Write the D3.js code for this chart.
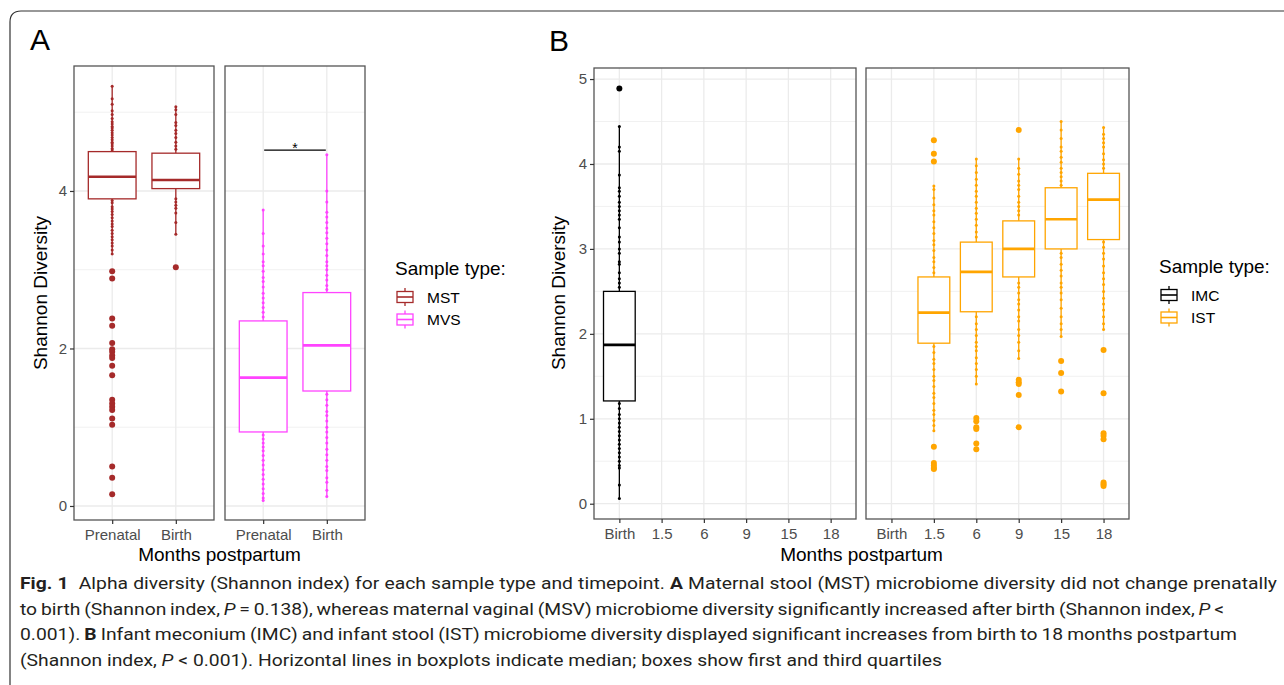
<!DOCTYPE html>
<html>
<head>
<meta charset="utf-8">
<script src="https://cdn.jsdelivr.net/npm/d3@7"></script>
<style>
body { margin: 0; background: #fff; }
svg text { font-family: "Liberation Sans", Arial, sans-serif; }
.cap text { font-family: "Roboto", "Open Sans", sans-serif; fill: #231f20; }
</style>
</head>
<body>
<svg id="fig" width="1284" height="685"></svg>
<script>
// ---- data ----
const aCategories = ['Prenatal', 'Birth']
const bCategories = ['Birth', '1.5', '6', '9', '15', '18']
const istCategories = ['1.5', '6', '9', '15', '18']
const aTicks = [0, 2, 4]
const aMinor = [1, 3, 5]
const bTicks = [0, 1, 2, 3, 4, 5]
const bMinor = [0.5, 1.5, 2.5, 3.5, 4.5]

// box stats: [lower whisker, q1, median, q3, upper whisker]
const mstBox = [[3.20, 3.90, 4.18, 4.50, 5.33], [3.45, 4.03, 4.14, 4.48, 5.07]]
const mvsBox = [[0.07, 0.94, 1.63, 2.35, 3.76], [0.12, 1.46, 2.04, 2.71, 4.46]]
const imcBox = [[0.06, 1.21, 1.87, 2.50, 4.44]]
const istBox = [
    [0.86, 1.89, 2.25, 2.67, 3.74],
    [1.41, 2.26, 2.73, 3.08, 4.06],
    [1.71, 2.67, 3.00, 3.33, 4.06],
    [1.97, 3.00, 3.35, 3.72, 4.50],
    [2.05, 3.11, 3.58, 3.89, 4.43]
]

// outliers
const mstOut = [
    [2.98, 2.89, 2.38, 2.29, 2.07, 1.99, 1.96, 1.91, 1.88, 1.78, 1.66, 1.35, 1.30, 1.26, 1.22, 1.11, 1.03, 0.50, 0.36, 0.15],
    [3.03]
]
const mvsOut = [[], []]
const imcOut = [[4.89]]
const istOut = [
    [4.28, 4.12, 4.03, 0.67, 0.48, 0.45, 0.42, 0.41],
    [1.01, 0.97, 0.90, 0.88, 0.71, 0.64],
    [4.40, 1.46, 1.43, 1.41, 1.28, 0.90],
    [1.68, 1.54, 1.32],
    [1.81, 1.30, 0.83, 0.80, 0.76, 0.25, 0.23, 0.21]
]

// individual samples visible along the whiskers
const mstPts = [
    [5.33, 5.17, 5.10, 5.02, 4.97, 4.92, 4.88, 4.85, 4.82, 4.80, 4.77, 4.74, 4.71, 4.68, 4.65, 4.62, 4.60, 4.57, 4.54, 4.52,
     3.88, 3.85, 3.80, 3.77, 3.74, 3.70, 3.66, 3.62, 3.58, 3.55, 3.50, 3.46, 3.42, 3.38, 3.34, 3.30, 3.25, 3.20],
    [5.07, 5.03, 4.97, 4.87, 4.83, 4.77, 4.73, 4.68, 4.62, 4.57, 4.53, 3.90, 3.86, 3.82, 3.78, 3.72, 3.60, 3.45]
]
const mvsPts = [
    [3.76, 3.46, 3.30, 3.20, 3.10, 3.05, 2.98, 2.90, 2.85, 2.78, 2.70, 2.64, 2.58, 2.52, 2.46, 2.40,
     0.90, 0.85, 0.80, 0.75, 0.70, 0.64, 0.58, 0.52, 0.46, 0.40, 0.34, 0.28, 0.22, 0.16, 0.10, 0.07],
    [4.46, 4.00, 3.86, 3.73, 3.67, 3.60, 3.53, 3.47, 3.40, 3.33, 3.25, 3.18, 3.10, 3.05, 3.00, 2.93, 2.87, 2.80, 2.75,
     1.42, 1.35, 1.28, 1.20, 1.15, 1.08, 1.00, 0.94, 0.87, 0.80, 0.72, 0.65, 0.58, 0.50, 0.45, 0.36, 0.30, 0.20, 0.12]
]
const imcPts = [
    [4.44, 4.20, 4.15, 3.87, 3.72, 3.68, 3.62, 3.55, 3.50, 3.45, 3.40, 3.35, 3.25, 3.14, 3.08, 3.00, 2.95, 2.85, 2.82, 2.72, 2.65, 2.60, 2.55,
     1.18, 1.12, 1.05, 1.00, 0.95, 0.90, 0.85, 0.80, 0.75, 0.70, 0.65, 0.60, 0.55, 0.50, 0.45, 0.42, 0.22, 0.06]
]
const istPts = [
    [3.74, 3.70, 3.60, 3.52, 3.45, 3.40, 3.32, 3.25, 3.18, 3.10, 3.05, 2.98, 2.90, 2.85, 2.78, 2.72,
     1.85, 1.78, 1.70, 1.65, 1.58, 1.50, 1.45, 1.38, 1.30, 1.25, 1.18, 1.10, 1.05, 0.98, 0.92, 0.86],
    [4.06, 3.98, 3.90, 3.82, 3.75, 3.68, 3.62, 3.55, 3.48, 3.42, 3.35, 3.28, 3.20, 3.14,
     2.20, 2.12, 2.05, 1.98, 1.90, 1.85, 1.80, 1.72, 1.65, 1.58, 1.50, 1.41],
    [4.06, 3.95, 3.88, 3.80, 3.75, 3.70, 3.62, 3.55, 3.50, 3.45, 3.40,
     2.60, 2.55, 2.48, 2.40, 2.35, 2.28, 2.20, 2.15, 2.05, 1.98, 1.90, 1.80, 1.71],
    [4.50, 4.40, 4.30, 4.20, 4.15, 4.08, 4.02, 3.95, 3.90, 3.85, 3.80, 3.75,
     2.95, 2.90, 2.82, 2.75, 2.68, 2.60, 2.55, 2.48, 2.40, 2.30, 2.20, 2.12, 2.05, 1.97],
    [4.43, 4.35, 4.30, 4.25, 4.20, 4.12, 4.05, 4.00, 3.95,
     3.08, 3.02, 2.95, 2.88, 2.80, 2.72, 2.65, 2.58, 2.50, 2.42, 2.35, 2.28, 2.20, 2.12, 2.05]
]

const sig = { from: 'Prenatal', to: 'Birth', value: 4.52, label: '*' }

const colMST = '#a52a2a'
const colMVS = '#ff44ff'
const colIMC = '#000000'
const colIST = '#ffa500'

// ---- drawing ----
const svg = d3.select('#fig')

// outer frame
svg.append('path')
    .attr('d', 'M10,700 V22 Q10,11 21,11 H1300')
    .attr('fill', 'none').attr('stroke', '#333').attr('stroke-width', 1.2)

const gridLayer = svg.append('g')
const markLayer = svg.append('g')
const frameLayer = svg.append('g')

function facet(x0, x1, y, cats, major, minor, withYAxis) {
    const x = d3.scalePoint().domain(cats).range([x0, x1]).padding(0.6)
    const [yb, yt] = y.range()
    gridLayer.selectAll(null).data(minor).enter().append('line')
        .attr('x1', x0).attr('x2', x1).attr('y1', d => y(d)).attr('y2', d => y(d))
        .attr('stroke', '#ebebeb').attr('stroke-width', 0.7)
    gridLayer.selectAll(null).data(major).enter().append('line')
        .attr('x1', x0).attr('x2', x1).attr('y1', d => y(d)).attr('y2', d => y(d))
        .attr('stroke', '#ebebeb').attr('stroke-width', 1.3)
    gridLayer.selectAll(null).data(cats).enter().append('line')
        .attr('x1', d => x(d)).attr('x2', d => x(d)).attr('y1', yt).attr('y2', yb)
        .attr('stroke', '#ebebeb').attr('stroke-width', 1.3)

    frameLayer.append('rect')
        .attr('x', x0).attr('y', yt).attr('width', x1 - x0).attr('height', yb - yt)
        .attr('fill', 'none').attr('stroke', '#555').attr('stroke-width', 1.3)

    const xa = frameLayer.append('g')
        .attr('transform', `translate(0,${yb})`)
        .call(d3.axisBottom(x).tickSize(4).tickPadding(5))
    styleAxis(xa)
    if (withYAxis) {
        const ya = frameLayer.append('g')
            .attr('transform', `translate(${x0},0)`)
            .call(d3.axisLeft(y).tickValues(major).tickFormat(d3.format('d')).tickSize(4).tickPadding(3))
        styleAxis(ya)
    }
    return x
}

function styleAxis(a) {
    a.select('.domain').remove()
    a.selectAll('.tick line').attr('stroke', '#333').attr('stroke-width', 1.2)
    a.selectAll('.tick text').attr('fill', '#4d4d4d').style('font-size', '15px')
        .style('font-family', '"Liberation Sans", Arial, sans-serif')
}

function boxes(x, y, cats, stats, outliers, points, color) {
    const bw = 0.75 * x.step()
    cats.forEach((c, i) => {
        const cx = x(c)
        const [lo, q1, md, q3, hi] = stats[i]
        const g = markLayer.append('g')
        g.selectAll(null).data(points[i].concat(outliers[i])).enter().append('circle')
            .attr('cx', cx).attr('cy', d => y(d)).attr('r', 1.5).attr('fill', color)
        g.selectAll(null).data([[lo, q1], [q3, hi]]).enter().append('line')
            .attr('x1', cx).attr('x2', cx).attr('y1', d => y(d[0])).attr('y2', d => y(d[1]))
            .attr('stroke', color).attr('stroke-width', 1.3)
        g.append('rect')
            .attr('x', cx - bw / 2).attr('width', bw)
            .attr('y', y(q3)).attr('height', y(q1) - y(q3))
            .attr('fill', '#fff').attr('stroke', color).attr('stroke-width', 1.3)
        g.append('line')
            .attr('x1', cx - bw / 2).attr('x2', cx + bw / 2).attr('y1', y(md)).attr('y2', y(md))
            .attr('stroke', color).attr('stroke-width', 2.6)
        g.selectAll(null).data(outliers[i]).enter().append('circle')
            .attr('cx', cx).attr('cy', d => y(d)).attr('r', 3).attr('fill', color)
    })
}

function legend(x, y, items) {
    const g = svg.append('g').attr('transform', `translate(${x},${y})`)
    g.append('text').attr('x', 0).attr('y', 0).style('font-size', '19px').attr('fill', '#000').text('Sample type:')
    items.forEach((it, i) => {
        const cy = 22 + i * 22.5
        const k = g.append('g').attr('transform', `translate(2,${cy})`)
        k.append('line').attr('x1', 8).attr('x2', 8).attr('y1', -9).attr('y2', 9).attr('stroke', it.color).attr('stroke-width', 1.3)
        k.append('rect').attr('x', 0).attr('y', -5.5).attr('width', 16).attr('height', 11)
            .attr('fill', '#fff').attr('stroke', it.color).attr('stroke-width', 1.3)
        k.append('line').attr('x1', 0).attr('x2', 16).attr('y1', 0).attr('y2', 0).attr('stroke', it.color).attr('stroke-width', 1.6)
        g.append('text').attr('x', 32).attr('y', cy + 5.5).style('font-size', '15.5px').attr('fill', '#000').text(it.label)
    })
}

// ---- panel A ----
const yA = d3.scaleLinear().domain([-0.178, 5.587]).range([520, 66])
const xA1 = facet(74, 214, yA, aCategories, aTicks, aMinor, true)
const xA2 = facet(225, 365, yA, aCategories, aTicks, aMinor, false)
boxes(xA1, yA, aCategories, mstBox, mstOut, mstPts, colMST)
boxes(xA2, yA, aCategories, mvsBox, mvsOut, mvsPts, colMVS)

markLayer.append('line')
    .attr('x1', xA2(sig.from) + 1).attr('x2', xA2(sig.to) - 1)
    .attr('y1', yA(sig.value)).attr('y2', yA(sig.value))
    .attr('stroke', '#000').attr('stroke-width', 1.2)
markLayer.append('text')
    .attr('x', (xA2(sig.from) + xA2(sig.to)) / 2).attr('y', yA(sig.value) + 3)
    .attr('text-anchor', 'middle').style('font-size', '14px').text(sig.label)

svg.append('text').attr('x', 30).attr('y', 50).style('font-size', '30px').text('A')
svg.append('text').attr('transform', 'translate(47,293) rotate(-90)')
    .attr('text-anchor', 'middle').style('font-size', '19px').text('Shannon Diversity')
svg.append('text').attr('x', 219.5).attr('y', 561)
    .attr('text-anchor', 'middle').style('font-size', '19px').text('Months postpartum')
legend(395, 275, [{ label: 'MST', color: colMST }, { label: 'MVS', color: colMVS }])

// ---- panel B ----
const yB = d3.scaleLinear().domain([-0.18, 5.13]).range([519, 68])
const xB1 = facet(594, 856, yB, bCategories, bTicks, bMinor, true)
const xB2 = facet(866, 1129, yB, bCategories, bTicks, bMinor, false)
boxes(xB1, yB, ['Birth'], imcBox, imcOut, imcPts, colIMC)
boxes(xB2, yB, istCategories, istBox, istOut, istPts, colIST)

svg.append('text').attr('x', 549).attr('y', 51).style('font-size', '30px').text('B')
svg.append('text').attr('transform', 'translate(565,293) rotate(-90)')
    .attr('text-anchor', 'middle').style('font-size', '19px').text('Shannon Diversity')
svg.append('text').attr('x', 861.5).attr('y', 561)
    .attr('text-anchor', 'middle').style('font-size', '19px').text('Months postpartum')
legend(1159, 273, [{ label: 'IMC', color: colIMC }, { label: 'IST', color: colIST }])

// ---- caption ----
// justified lines: word by word, same glyph scale on every line, gaps fill the width
const capLines = [
    { w: 1257, parts: [['Fig. 1', 'b'], ['\u2002Alpha diversity (Shannon index) for each sample type and timepoint. ', ''], ['A', 'b'], [' Maternal stool (MST) microbiome diversity did not change prenatally', '']] },
    { w: 1204, parts: [['to birth (Shannon index, ', ''], ['P', 'i'], [' = 0.138), whereas maternal vaginal (MSV) microbiome diversity significantly increased after birth (Shannon index, ', ''], ['P', 'i'], [' <', '']] },
    { w: 1217, parts: [['0.001). ', ''], ['B', 'b'], [' Infant meconium (IMC) and infant stool (IST) microbiome diversity displayed significant increases from birth to 18 months postpartum', '']] },
    { w: 922, last: true, parts: [['(Shannon index, ', ''], ['P', 'i'], [' < 0.001). Horizontal lines in boxplots indicate median; boxes show first and third quartiles', '']] }
]
const capSize = 17
const space = capSize * 0.25
const cap = svg.append('g').attr('class', 'cap')

const capRows = capLines.map((ln, i) => {
    const words = []
    ln.parts.forEach(p => {
        p[0].split(' ').forEach(t => {
            let gap = 1
            if (t.startsWith('\u2002')) { t = t.slice(1); gap = 2 }
            if (t) words.push({ t, st: p[1], gap })
        })
    })
    words.forEach(wd => {
        wd.node = cap.append('text')
            .attr('y', 589 + i * 25.5)
            .style('font-size', capSize + 'px')
            .style('font-weight', wd.st === 'b' ? 'bold' : 'normal')
            .style('font-style', wd.st === 'i' ? 'italic' : 'normal')
            .text(wd.t)
        wd.w = wd.node.node().getComputedTextLength()
    })
    return { ln, words }
})

// glyph scale from the unjustified last line
const lastRow = capRows[capRows.length - 1]
const lastGaps = d3.sum(lastRow.words.slice(1), d => d.gap)
const k = lastRow.ln.w / (d3.sum(lastRow.words, d => d.w) + lastGaps * space)

capRows.forEach(({ ln, words }) => {
    const gapW = d3.sum(words.slice(1), d => d.gap)
    const unit = ln.last ? space * k : (ln.w - k * d3.sum(words, d => d.w)) / gapW
    let x = 20
    words.forEach((wd, j) => {
        if (j > 0) x += unit * wd.gap
        const w = wd.w * k
        wd.node.attr('x', x).attr('textLength', w).attr('lengthAdjust', 'spacingAndGlyphs')
        x += w
    })
})
</script>
</body>
</html>
